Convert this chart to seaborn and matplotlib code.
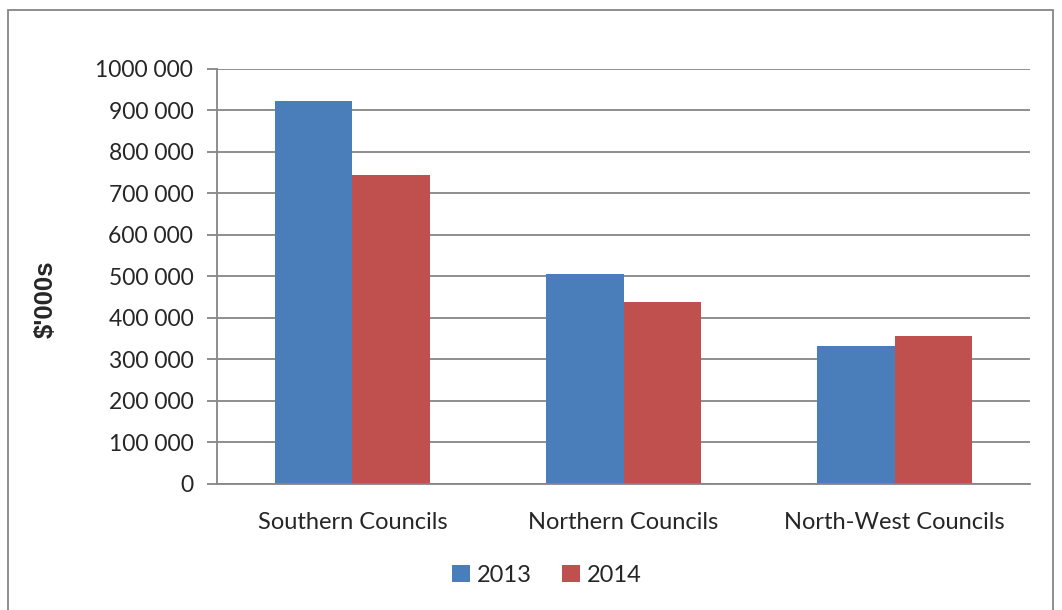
# Council totals 2013 vs 2014, Excel-style grouped bars
import pandas as pd
import matplotlib.pyplot as plt
import seaborn as sns
from matplotlib.patches import Rectangle

councils = ["Southern Councils", "Northern Councils", "North-West Councils"]
years = ["2013", "2014"]
values_2013 = [922000, 505000, 332000]
values_2014 = [744000, 438000, 356000]
y_ticks = [0, 100000, 200000, 300000, 400000, 500000, 600000, 700000, 800000, 900000, 1000000]
y_tick_labels = ["0", "100 000", "200 000", "300 000", "400 000", "500 000",
                 "600 000", "700 000", "800 000", "900 000", "1000 000"]

df = pd.DataFrame({
    "council": councils * 2,
    "year": [years[0]] * 3 + [years[1]] * 3,
    "value": values_2013 + values_2014,
})

sns.set_style("white")
plt.rcParams["font.family"] = ["Lato", "DejaVu Sans"]

fig = plt.figure(figsize=(10.62, 6.10), dpi=100)
ax = fig.add_axes([0.2043, 0.2066, 0.7656, 0.6803])

grid_c = "#868686"
sns.barplot(data=df, x="council", y="value", hue="year", ax=ax,
            palette=["#4A7EBB", "#C0504D"], width=0.571, gap=0,
            saturation=1, edgecolor="none", linewidth=0, legend=True)

ax.set_ylim(0, 1000000)
ax.set_xlim(-0.5, 2.5)
ax.set_yticks(y_ticks)
ax.set_yticklabels(y_tick_labels, fontsize=16.5)
ax.yaxis.grid(True, color=grid_c, linewidth=1.3)
ax.set_axisbelow(True)

# category labels sit between boundary ticks
ax.set_xticks([0, 1, 2])
ax.set_xticklabels(councils, fontsize=17)
ax.tick_params(axis="x", length=0, pad=20)
ax.set_xticks([-0.5, 0.5, 1.5, 2.5], minor=True)
ax.tick_params(axis="x", which="minor", length=7, color=grid_c, width=1.3)
ax.tick_params(axis="y", length=7, color=grid_c, width=1.3, left=True, pad=10)

for side in ["top", "right"]:
    ax.spines[side].set_visible(False)
for side in ["left", "bottom"]:
    ax.spines[side].set_color(grid_c)
    ax.spines[side].set_linewidth(1.3)

ax.set_xlabel("")
ax.set_ylabel("$'000s", fontsize=18.5, fontweight="bold", family="Liberation Sans")
ax.yaxis.set_label_coords(-0.1956, 0.446)

leg = ax.legend(loc="center", ncol=2, frameon=False,
                fontsize=17, handlelength=0.75, handleheight=0.75, handletextpad=0.3,
                columnspacing=1.3)
leg.set_bbox_to_anchor((0.515, 0.057), transform=fig.transFigure)

# outer chart frame
fig.patches.append(Rectangle((8 / 1062, -0.05), (1053 - 8) / 1062, 1 - 10 / 610 + 0.05,
                             transform=fig.transFigure, fill=False,
                             edgecolor=grid_c, linewidth=1.3))

plt.savefig("out.png", dpi=100)
plt.close()
